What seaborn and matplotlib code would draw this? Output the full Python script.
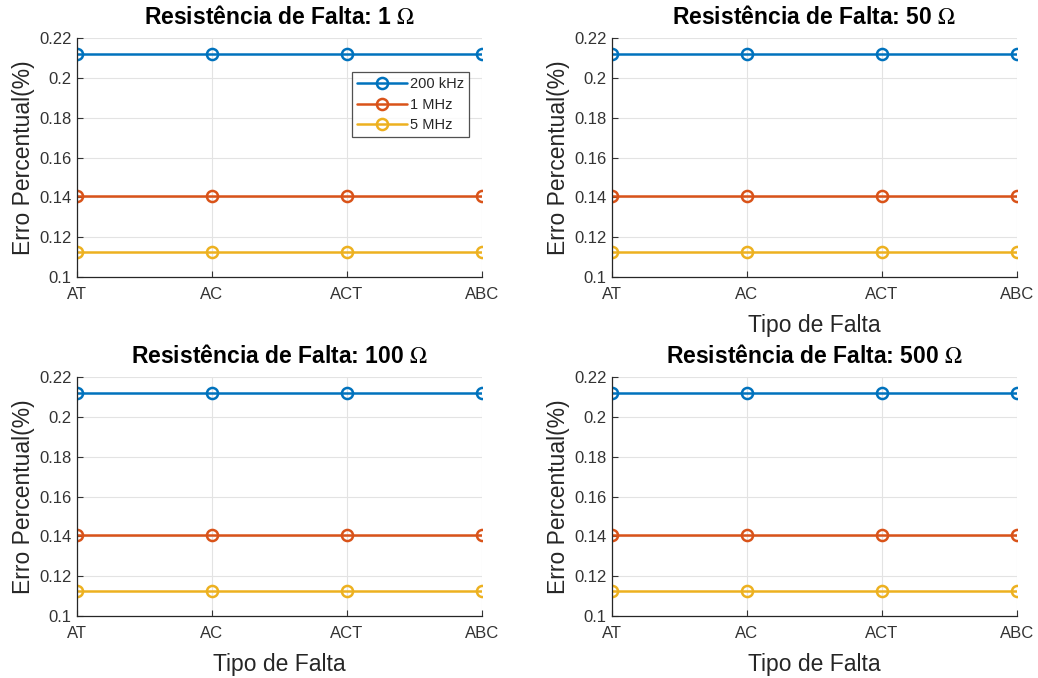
import pandas as pd
import matplotlib.pyplot as plt
import seaborn as sns

# valores
tipos = ['AT', 'AC', 'ACT', 'ABC']
resistencias = ['1', '50', '100', '500']
freqs = ['200 kHz', '1 MHz', '5 MHz']
erro_200k = [0.212, 0.212, 0.212, 0.212]
erro_1M = [0.1405, 0.1405, 0.1405, 0.1405]
erro_5M = [0.1125, 0.1125, 0.1125, 0.1125]

cores = ['#0072BD', '#D95319', '#EDB120']

rows = []
for r in resistencias:
    for f, vals in zip(freqs, [erro_200k, erro_1M, erro_5M]):
        for t, v in zip(tipos, vals):
            rows.append({'R': r, 'Freq': f, 'Tipo': t, 'Erro': v})
df = pd.DataFrame(rows)

sns.set_theme(style="whitegrid")
plt.rcParams['font.family'] = ['Liberation Sans', 'DejaVu Sans']
plt.rcParams['mathtext.fontset'] = 'stix'

fig = plt.figure(figsize=(10.38, 6.78), dpi=100)
fig.patch.set_facecolor('white')

# posições dos eixos (fração da figura)
lefts = [0.0742, 0.5896]
bottoms = [0.5914, 0.0914]
w, h = 0.390, 0.3525

for i, r in enumerate(resistencias):
    ax = fig.add_axes([lefts[i % 2], bottoms[i // 2], w, h])
    d = df[df['R'] == r]
    sns.lineplot(data=d, x='Tipo', y='Erro', hue='Freq', hue_order=freqs,
                 palette=cores, marker='o', markersize=8, markerfacecolor='none',
                 markeredgewidth=1.8, linewidth=1.8, ax=ax, legend=(i == 0))
    for ln, c in zip(ax.lines, cores):
        ln.set_markeredgecolor(c)

    ax.set_xlim(0, 3)
    ax.set_ylim(0.1, 0.22)
    ax.set_yticks([0.1, 0.12, 0.14, 0.16, 0.18, 0.2, 0.22])
    ax.set_yticklabels(['0.1', '0.12', '0.14', '0.16', '0.18', '0.2', '0.22'])
    ax.set_facecolor('white')
    ax.grid(True, color='#e3e3e3', linewidth=0.8)
    for s in ['top', 'right']:
        ax.spines[s].set_visible(False)
    for s in ['left', 'bottom']:
        ax.spines[s].set_color('#262626')
        ax.spines[s].set_linewidth(0.9)
    ax.tick_params(direction='in', length=4, width=0.8, colors='#333333',
                   labelsize=12, left=True, bottom=True, pad=4)
    ax.tick_params(axis='x', pad=7)

    ax.set_title(f'Resistência de Falta: {r} $\\Omega$', fontsize=16.5,
                 fontweight='bold', color='black', pad=10)
    ax.set_ylabel('Erro Percentual(%)', fontsize=16.5, color='#262626', labelpad=3)
    if i == 0:
        ax.set_xlabel('')
        leg = ax.legend(loc='upper right', bbox_to_anchor=(0.968, 0.858),
                        borderaxespad=0, fontsize=10.5, frameon=True,
                        fancybox=False, edgecolor='#262626', handlelength=3.4,
                        borderpad=0.35, labelspacing=0.45, handletextpad=0.2)
        leg.get_frame().set_linewidth(0.9)
        for hnd, c in zip(leg.get_lines(), cores):
            hnd.set_markerfacecolor('none')
            hnd.set_markeredgecolor(c)
    else:
        ax.set_xlabel('Tipo de Falta', fontsize=16.5, color='#262626', labelpad=9)

fig.savefig('out.png', dpi=100, facecolor='white')
